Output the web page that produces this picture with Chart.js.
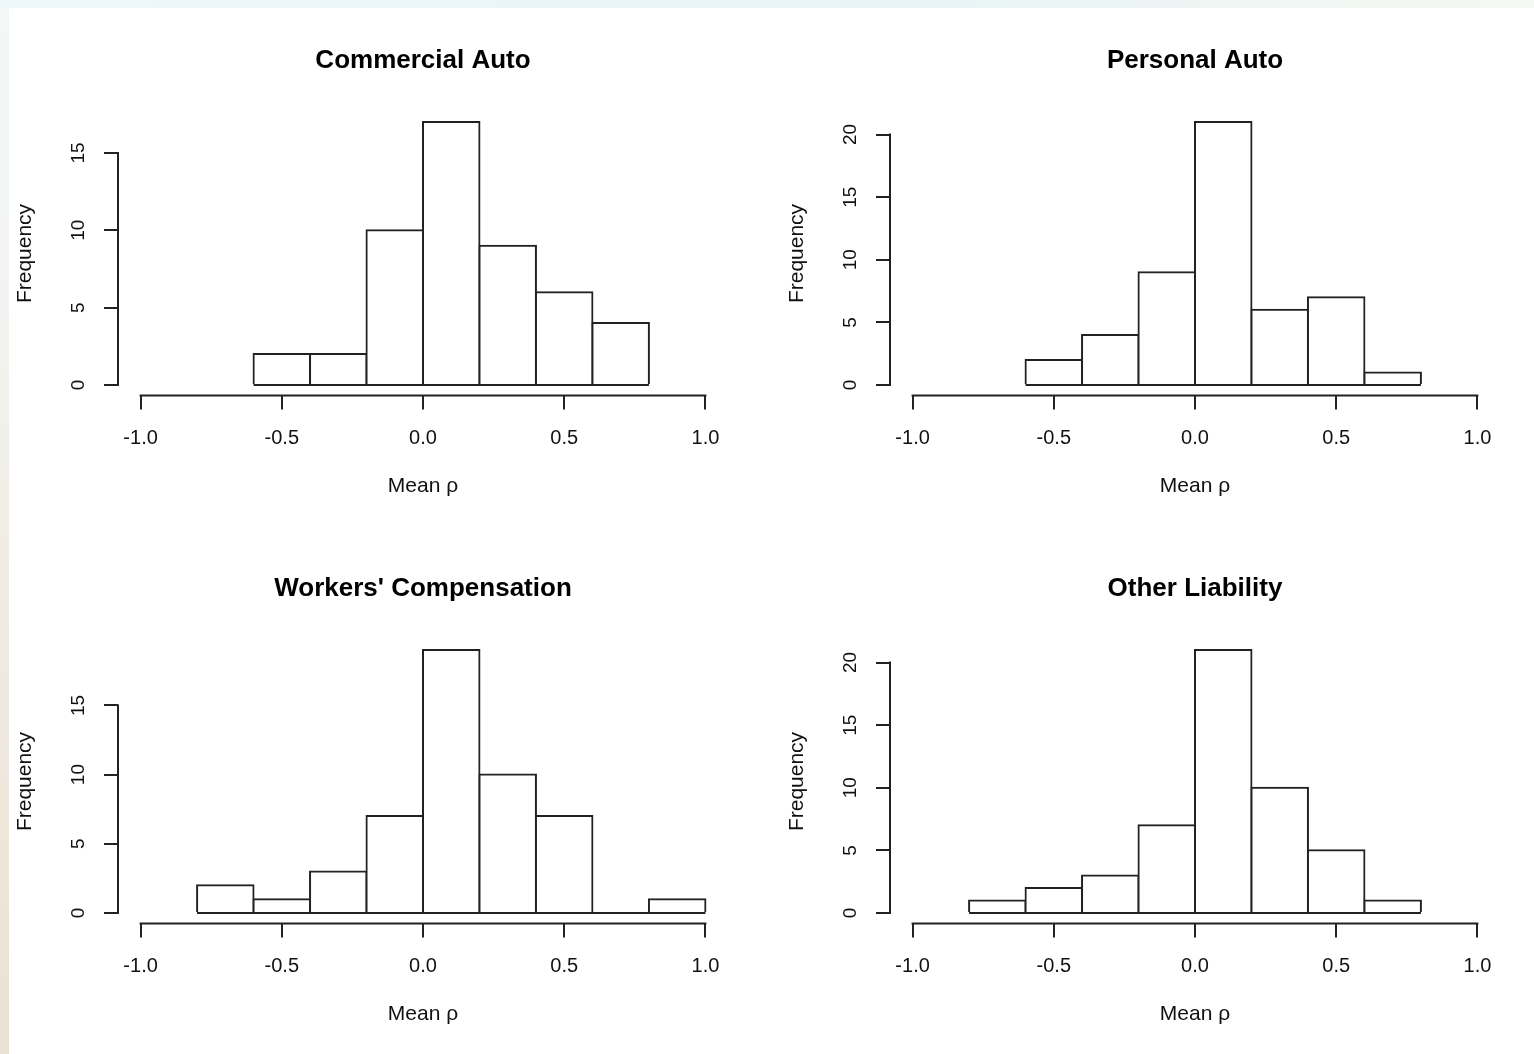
<!DOCTYPE html>
<html>
<head>
<meta charset="utf-8">
<title>Mean rho histograms</title>
<script src="https://cdn.jsdelivr.net/npm/chart.js@4.4.1/dist/chart.umd.min.js"></script>
<style>
  html, body { margin: 0; padding: 0; background: #fff; }
  body { width: 1534px; height: 1054px; position: relative; overflow: hidden; }
  .topband { position: absolute; left: 0; top: 0; width: 1534px; height: 8px;
    background: linear-gradient(to right, #eef8fa, #e8f4f6 60%, #f5f8f2); }
  .leftband { position: absolute; left: 0; top: 8px; width: 9px; height: 1046px;
    background: linear-gradient(to bottom, #f3f7f8 0%, #f3f6f6 18%, #f0ede5 50%, #ebe1d4 100%); }
  canvas { position: absolute; }
</style>
</head>
<body>
<div class="topband"></div>
<div class="leftband"></div>
<canvas id="commercial" width="762" height="528" style="left:0px;top:0px"></canvas>
<canvas id="personal" width="762" height="528" style="left:772px;top:0px"></canvas>
<canvas id="workers" width="762" height="528" style="left:0px;top:528px"></canvas>
<canvas id="other" width="762" height="528" style="left:772px;top:528px"></canvas>
<script>
// histogram data (bin edges + counts per bin)
const xTickValues = [-1, -0.5, 0, 0.5, 1];
const xTickLabels = ['-1.0', '-0.5', '0.0', '0.5', '1.0'];

const commercialBreaks = [-0.6, -0.4, -0.2, 0, 0.2, 0.4, 0.6, 0.8];
const commercialCounts = [2, 2, 10, 17, 9, 6, 4];
const commercialYTicks = [0, 5, 10, 15];

const personalBreaks = [-0.6, -0.4, -0.2, 0, 0.2, 0.4, 0.6, 0.8];
const personalCounts = [2, 4, 9, 21, 6, 7, 1];
const personalYTicks = [0, 5, 10, 15, 20];

const workersBreaks = [-0.8, -0.6, -0.4, -0.2, 0, 0.2, 0.4, 0.6, 0.8, 1.0];
const workersCounts = [2, 1, 3, 7, 19, 10, 7, 0, 1];
const workersYTicks = [0, 5, 10, 15];

const otherBreaks = [-0.8, -0.6, -0.4, -0.2, 0, 0.2, 0.4, 0.6, 0.8];
const otherCounts = [1, 2, 3, 7, 21, 10, 5, 1];
const otherYTicks = [0, 5, 10, 15, 20];

const LINE = '#222';
const TEXT = '#111';
Chart.defaults.font.family = '"Liberation Sans", Arial, sans-serif';

// R style axis lines: only from first to last tick
const rAxisLines = {
  id: 'rAxisLines',
  afterDraw(chart) {
    const { ctx, chartArea, scales } = chart;
    const xs = scales.x, ys = scales.y;
    const xt = xs.ticks, yt = ys.ticks;
    ctx.save();
    ctx.strokeStyle = LINE;
    ctx.lineWidth = 2;
    ctx.lineCap = 'square';
    ctx.beginPath();
    ctx.moveTo(xs.getPixelForValue(xt[0].value), chartArea.bottom);
    ctx.lineTo(xs.getPixelForValue(xt[xt.length - 1].value), chartArea.bottom);
    ctx.moveTo(chartArea.left, ys.getPixelForValue(yt[0].value));
    ctx.lineTo(chartArea.left, ys.getPixelForValue(yt[yt.length - 1].value));
    ctx.stroke();
    ctx.restore();
  }
};

function makeHistogram(id, title, breaks, counts, yTicks) {
  const bars = counts.map((c, i) => ({ x: (breaks[i] + breaks[i + 1]) / 2, y: c }));
  const base = [{ x: breaks[0], y: 0 }, { x: breaks[breaks.length - 1], y: 0 }];
  const ymax = Math.max(...counts);

  new Chart(document.getElementById(id), {
    type: 'bar',
    data: {
      datasets: [
        {
          type: 'bar',
          data: bars,
          backgroundColor: '#fff',
          borderColor: LINE,
          borderWidth: 2,
          inflateAmount: 1,
          barPercentage: 1,
          categoryPercentage: 1,
          order: 1
        },
        {
          type: 'line',
          data: base,
          borderColor: LINE,
          borderWidth: 2,
          pointRadius: 0,
          order: 0
        }
      ]
    },
    options: {
      responsive: false,
      animation: false,
      layout: { padding: { left: 0, right: 34, top: 0, bottom: 22.5 } },
      plugins: {
        legend: { display: false },
        tooltip: { enabled: false },
        title: {
          display: true,
          text: title,
          fullSize: false,
          color: '#000',
          font: { size: 26, weight: 'bold' },
          padding: { top: 45, bottom: 35.3 }
        }
      },
      scales: {
        x: {
          type: 'linear',
          min: -1.08,
          max: 1.08,
          offset: false,
          afterBuildTicks: s => { s.ticks = xTickValues.map(v => ({ value: v })); },
          afterFit: s => { s.height = 110; },
          border: { display: false },
          grid: { offset: false, drawOnChartArea: false, drawTicks: true, tickLength: 14, color: LINE, lineWidth: 2 },
          ticks: {
            autoSkip: false, maxRotation: 0, padding: 17, color: TEXT,
            font: { size: 20 },
            callback: (v, i) => xTickLabels[i]
          },
          title: { display: true, text: 'Mean ρ', color: TEXT, font: { size: 21 }, padding: { top: 0, bottom: 7 } }
        },
        y: {
          type: 'linear',
          min: -0.04 * ymax,
          max: 1.04 * ymax,
          afterBuildTicks: s => { s.ticks = yTicks.map(v => ({ value: v })); },
          afterFit: s => { s.width = 118; },
          border: { display: false },
          grid: { drawOnChartArea: false, drawTicks: true, tickLength: 14, color: LINE, lineWidth: 2 },
          ticks: {
            autoSkip: false, minRotation: 90, maxRotation: 90, crossAlign: 'center',
            padding: 15, color: TEXT, font: { size: 19 },
            callback: v => String(v)
          },
          title: { display: true, text: 'Frequency', color: TEXT, font: { size: 21 }, padding: { top: 13, bottom: 0 } }
        }
      }
    },
    plugins: [rAxisLines]
  });
}

makeHistogram('commercial', 'Commercial Auto', commercialBreaks, commercialCounts, commercialYTicks);
makeHistogram('personal', 'Personal Auto', personalBreaks, personalCounts, personalYTicks);
makeHistogram('workers', "Workers' Compensation", workersBreaks, workersCounts, workersYTicks);
makeHistogram('other', 'Other Liability', otherBreaks, otherCounts, otherYTicks);
</script>
</body>
</html>
